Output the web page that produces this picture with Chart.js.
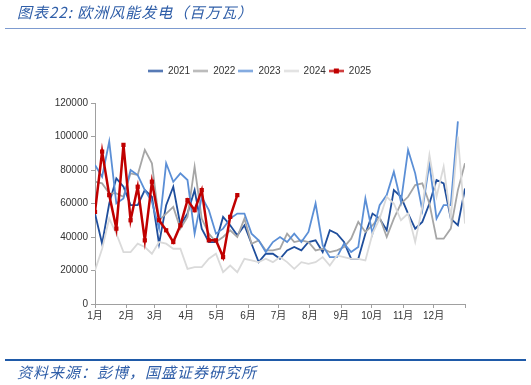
<!DOCTYPE html>
<html>
<head>
<meta charset="utf-8">
<script src="https://cdn.jsdelivr.net/npm/chart.js@4.4.1/dist/chart.umd.min.js"></script>
<style>
  body { margin: 0; background: #fff; }
  #wrap { position: relative; width: 531px; height: 385px; overflow: hidden; }
  #title { position: absolute; left: 17px; top: 1px; font: italic 15px "Noto Sans CJK SC"; letter-spacing: 1px; color: #2f5ea8; white-space: nowrap; }
  #topline { position: absolute; left: 5px; right: 5px; top: 28px; height: 1px; background: #7d9bd0; }
  #botline { position: absolute; left: 5px; right: 5px; top: 359px; height: 2px; background: #1f5aa8; }
  #source { position: absolute; left: 17px; top: 361px; font: italic 15px "Noto Sans CJK SC"; letter-spacing: 1px; color: #2f5ea8; white-space: nowrap; }
  #chart { position: absolute; left: 0; top: 0; }
</style>
</head>
<body>
<div id="wrap">
  <canvas id="chart" width="531" height="385"></canvas>
  <div id="title">图表22:&nbsp;欧洲风能发电（百万瓦）</div>
  <div id="topline"></div>
  <div id="botline"></div>
  <div id="source">资料来源：彭博，国盛证券研究所</div>
</div>
<script>
// weekly wind generation
const years = ["2021", "2022", "2023", "2024", "2025"];
const y2021 = [54000,36000,60000,75000,70000,59000,59000,68000,64000,36000,59000,70000,47000,54000,68000,45000,37000,37000,52000,47000,41000,47000,36000,25000,30000,30000,27000,32000,34000,32000,37000,38000,31000,44000,42000,37000,27000,27000,42000,54000,51000,44000,68000,64000,54000,45000,49000,60000,74000,72000,51000,47000,69000];
const y2022 = [73000,72000,66000,66000,64000,78000,77000,92000,84000,50000,54000,58000,45000,52000,82000,51000,42000,37000,40000,44000,40000,51000,36000,38000,32000,32000,33000,42000,37000,38000,37000,32000,33000,31000,32000,34000,39000,49000,43000,47000,52000,40000,51000,60000,64000,71000,72000,60000,39000,39000,45000,68000,84000];
const y2023 = [83000,76000,97000,60000,63000,80000,77000,68000,61000,45000,84000,73000,78000,74000,42000,64000,56000,42000,45000,51000,54000,54000,42000,38000,31000,37000,40000,37000,42000,37000,43000,60000,35000,28000,28000,36000,31000,34000,63000,42000,59000,65000,79000,61000,92000,78000,56000,84000,51000,59000,59000,109000];
const y2024 = [20000,33000,51000,42000,31000,31000,36000,34000,30000,37000,36000,33000,33000,21000,22000,22000,27000,30000,19000,23000,19000,27000,26000,25000,27000,25000,28000,25000,21000,25000,24000,25000,28000,23000,29000,28000,27000,27000,26000,42000,51000,64000,60000,50000,54000,37000,58000,89000,64000,82000,51000,100000,48000];
const y2025 = [55000,91000,65000,45000,95000,50000,70000,38000,73000,50000,44000,37000,47000,62000,56000,68000,38000,38000,28000,52000,65000];
const months = ["1月","2月","3月","4月","5月","6月","7月","8月","9月","10月","11月","12月",""];
const monthStartDay = [0,31,59,90,120,151,181,212,243,273,304,334,365];
const yTicks = [0,20000,40000,60000,80000,100000,120000];

const colors = ["#1f4e9c", "#a6a6a6", "#5b8fd6", "#dadada", "#c00000"];
const series = [y2021, y2022, y2023, y2024, y2025];

function legendIcon(color, marker) {
  const c = document.createElement("canvas");
  c.width = 15; c.height = 7;
  const g = c.getContext("2d");
  g.strokeStyle = color; g.lineWidth = 2;
  g.beginPath(); g.moveTo(0, 3.5); g.lineTo(15, 3.5); g.stroke();
  if (marker) { g.fillStyle = color; g.fillRect(5, 1, 5, 5); }
  return c;
}

// drawn in reverse so that 2025 ends up on top
const datasets = years.map((yr, i) => ({
  label: yr,
  data: series[i].map((v, w) => ({ x: w, y: v })),
  borderColor: colors[i],
  backgroundColor: colors[i],
  borderWidth: i === 4 ? 2.5 : 1.8,
  pointRadius: i === 4 ? 3 : 0,
  pointStyle: "rect",
  pointBorderWidth: 0,
  tension: 0,
  fill: false,
  icon: legendIcon(colors[i], i === 4)
})).reverse();

// push the plot down below the legend and centre the legend like the original
const legendGap = {
  id: "legendGap",
  beforeInit(chart) {
    const fit = chart.legend.fit;
    chart.legend.fit = function () { fit.bind(chart.legend)(); this.height += 17; };
  },
  afterLayout(chart) {
    chart.legend.right = 519;
    chart.legend.width = chart.legend.right - chart.legend.left;
  }
};

const axisColor = "#a0a0a0";
const font = { family: "Arial, 'Liberation Sans', 'Noto Sans CJK SC'", size: 10 };

new Chart(document.getElementById("chart").getContext("2d"), {
  type: "line",
  data: { datasets: datasets },
  plugins: [legendGap],
  options: {
    responsive: false,
    animation: false,
    devicePixelRatio: 1,
    layout: { padding: { top: 63, right: 66, left: 0, bottom: 0 } },
    plugins: {
      tooltip: { enabled: false },
      legend: {
        reverse: true,
        labels: {
          usePointStyle: true,
          pointStyleWidth: 15,
          padding: 3,
          color: "#333",
          font: font,
          generateLabels(chart) {
            const items = Chart.defaults.plugins.legend.labels.generateLabels(chart);
            items.forEach(it => { it.pointStyle = chart.data.datasets[it.datasetIndex].icon; });
            return items;
          }
        }
      }
    },
    scales: {
      x: {
        type: "linear",
        min: 0,
        max: 52,
        afterFit(scale) { scale.height = 81; },
        afterBuildTicks(scale) { scale.ticks = monthStartDay.map(d => ({ value: d * 52 / 365 })); },
        ticks: {
          autoSkip: false,
          maxRotation: 0,
          padding: 2,
          color: "#333",
          font: font,
          callback: (v, i) => months[i]
        },
        grid: { display: true, drawOnChartArea: false, drawTicks: true, tickLength: 4, color: axisColor },
        border: { display: true, color: axisColor }
      },
      y: {
        min: 0,
        max: 120000,
        afterFit(scale) { scale.width = 95; },
        afterBuildTicks(scale) { scale.ticks = yTicks.map(v => ({ value: v })); },
        ticks: {
          padding: 3,
          color: "#333",
          font: font,
          callback: v => String(v)
        },
        grid: { display: true, drawOnChartArea: false, drawTicks: true, tickLength: 4, color: axisColor },
        border: { display: true, color: axisColor }
      }
    }
  }
});
</script>
</body>
</html>
